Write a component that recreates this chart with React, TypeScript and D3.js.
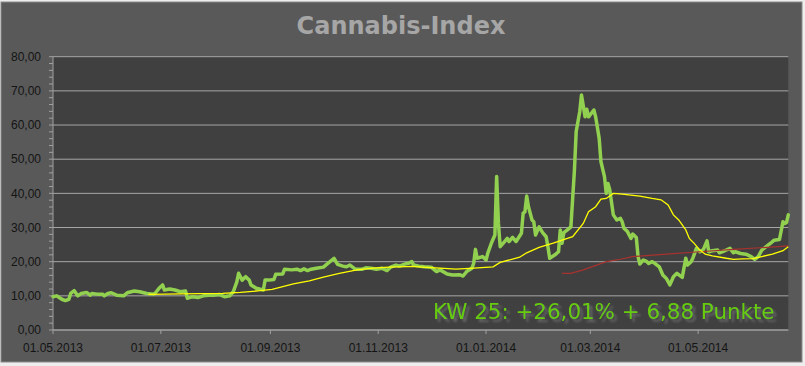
import React from 'react';
import * as d3 from 'd3';

// Cannabis-Index, Mai 2013 - Juni 2014
const INDEX_DATES = [
  '2013-05-01', '2013-05-03', '2013-05-06', '2013-05-08', '2013-05-10', '2013-05-11', '2013-05-13', '2013-05-15',
  '2013-05-17', '2013-05-20', '2013-05-22', '2013-05-23', '2013-05-26', '2013-05-29', '2013-05-30', '2013-06-01',
  '2013-06-03', '2013-06-06', '2013-06-10', '2013-06-12', '2013-06-16', '2013-06-19', '2013-06-23', '2013-06-27',
  '2013-06-28', '2013-06-30', '2013-07-02', '2013-07-03', '2013-07-06', '2013-07-09', '2013-07-12', '2013-07-15',
  '2013-07-16', '2013-07-19', '2013-07-22', '2013-07-25', '2013-07-28', '2013-07-31', '2013-08-03', '2013-08-06',
  '2013-08-09', '2013-08-11', '2013-08-13', '2013-08-14', '2013-08-16', '2013-08-18', '2013-08-20', '2013-08-21',
  '2013-08-24', '2013-08-28', '2013-08-29', '2013-08-31', '2013-09-03', '2013-09-04', '2013-09-08', '2013-09-09',
  '2013-09-13', '2013-09-16', '2013-09-18', '2013-09-20', '2013-09-22', '2013-09-24', '2013-09-27', '2013-10-01',
  '2013-10-03', '2013-10-07', '2013-10-09', '2013-10-12', '2013-10-14', '2013-10-16', '2013-10-19', '2013-10-23',
  '2013-10-25', '2013-10-28', '2013-10-31', '2013-11-03', '2013-11-06', '2013-11-08', '2013-11-11', '2013-11-13',
  '2013-11-16', '2013-11-18', '2013-11-20', '2013-11-21', '2013-11-24', '2013-11-27', '2013-12-01', '2013-12-04',
  '2013-12-06', '2013-12-10', '2013-12-13', '2013-12-17', '2013-12-19', '2013-12-21', '2013-12-24', '2013-12-25',
  '2013-12-26', '2013-12-27', '2013-12-30', '2014-01-01', '2014-01-02', '2014-01-04', '2014-01-06', '2014-01-07',
  '2014-01-08', '2014-01-09', '2014-01-11', '2014-01-13', '2014-01-14', '2014-01-16', '2014-01-18', '2014-01-21',
  '2014-01-22', '2014-01-23', '2014-01-24', '2014-01-25', '2014-01-27', '2014-01-28', '2014-01-29', '2014-01-31',
  '2014-02-02', '2014-02-04', '2014-02-05', '2014-02-06', '2014-02-09', '2014-02-11', '2014-02-12', '2014-02-13',
  '2014-02-14', '2014-02-16', '2014-02-18', '2014-02-20', '2014-02-21', '2014-02-23', '2014-02-24', '2014-02-26',
  '2014-02-27', '2014-02-28', '2014-03-03', '2014-03-04', '2014-03-06', '2014-03-07', '2014-03-09', '2014-03-10',
  '2014-03-11', '2014-03-12', '2014-03-14', '2014-03-16', '2014-03-18', '2014-03-19', '2014-03-20', '2014-03-22',
  '2014-03-24', '2014-03-25', '2014-03-27', '2014-03-28', '2014-03-29', '2014-03-31', '2014-04-02', '2014-04-03',
  '2014-04-05', '2014-04-07', '2014-04-09', '2014-04-11', '2014-04-13', '2014-04-15', '2014-04-17', '2014-04-19',
  '2014-04-22', '2014-04-24', '2014-04-25', '2014-04-27', '2014-04-28', '2014-04-30', '2014-05-02', '2014-05-04',
  '2014-05-06', '2014-05-07', '2014-05-09', '2014-05-12', '2014-05-13', '2014-05-16', '2014-05-19', '2014-05-21',
  '2014-05-22', '2014-05-25', '2014-05-28', '2014-05-31', '2014-06-02', '2014-06-04', '2014-06-06', '2014-06-09',
  '2014-06-11', '2014-06-13', '2014-06-16', '2014-06-18', '2014-06-19', '2014-06-20', '2014-06-21',
];
const INDEX_VALUES = [
  9.75, 10.0, 9.0, 8.6, 9.0, 10.7, 11.5, 10.0,
  10.7, 11.0, 10.2, 10.7, 10.5, 10.5, 10.0, 10.7,
  10.9, 10.2, 10.0, 10.9, 11.4, 11.2, 10.7, 10.5,
  10.9, 12.2, 13.2, 11.7, 12.0, 11.7, 11.2, 11.4,
  9.3, 9.75, 9.5, 10.0, 10.2, 10.2, 10.4, 9.75,
  10.0, 11.2, 14.1, 16.6, 14.6, 15.6, 14.6, 13.2,
  12.2, 11.7, 14.6, 14.6, 14.8, 16.3, 16.4, 17.8,
  17.6, 17.8, 17.4, 17.9, 17.4, 17.8, 18.1, 18.4,
  19.3, 21.0, 19.2, 18.7, 18.5, 19.0, 17.8, 17.8,
  18.2, 18.1, 17.8, 18.1, 17.4, 18.4, 19.0, 18.7,
  19.3, 19.5, 20.0, 19.0, 18.7, 18.5, 18.4, 17.1,
  17.6, 16.4, 16.1, 16.2, 15.8, 17.1, 18.1, 19.5,
  23.6, 21.0, 21.5, 20.5, 22.5, 25.4, 27.8, 44.9,
  31.2, 24.4, 25.6, 26.8, 25.9, 27.1, 25.9, 28.3,
  34.2, 34.6, 39.2, 36.1, 32.2, 31.7, 27.8, 30.2,
  28.5, 27.3, 24.4, 21.0, 22.0, 22.9, 29.3, 25.4,
  28.5, 29.3, 30.2, 46.8, 58.1, 63.9, 68.8, 62.4,
  64.6, 62.4, 64.4, 62.4, 56.1, 49.3, 44.9, 40.0,
  42.9, 41.0, 33.7, 32.2, 32.7, 31.7, 29.8, 28.8,
  26.8, 28.1, 27.1, 21.5, 19.3, 20.5, 20.0, 19.5,
  20.0, 19.3, 18.5, 16.1, 15.1, 13.2, 15.6, 16.6,
  15.4, 21.0, 19.0, 20.0, 21.0, 23.9, 22.9, 23.6,
  26.1, 22.9, 23.2, 23.4, 22.6, 23.2, 23.9, 22.6,
  22.9, 22.4, 22.2, 21.5, 20.7, 21.5, 23.4, 24.6,
  25.4, 26.3, 26.5, 31.7, 31.2, 31.5, 33.7,
];

// gleitender Durchschnitt (gelb)
const AVG_DATES = [
  '2013-06-24', '2013-07-12', '2013-08-05', '2013-08-15', '2013-08-26', '2013-09-02', '2013-09-08', '2013-09-14',
  '2013-09-23', '2013-10-01', '2013-10-10', '2013-10-20', '2013-10-29', '2013-11-07', '2013-11-13', '2013-11-20',
  '2013-11-26', '2013-12-06', '2013-12-15', '2013-12-25', '2014-01-05', '2014-01-09', '2014-01-20', '2014-01-24',
  '2014-01-31', '2014-02-08', '2014-02-16', '2014-02-19', '2014-02-25', '2014-02-28', '2014-03-04', '2014-03-07',
  '2014-03-10', '2014-03-14', '2014-03-19', '2014-03-29', '2014-04-05', '2014-04-10', '2014-04-14', '2014-04-17',
  '2014-04-20', '2014-04-24', '2014-04-26', '2014-04-29', '2014-05-02', '2014-05-05', '2014-05-09', '2014-05-17',
  '2014-05-21', '2014-05-26', '2014-06-01', '2014-06-06', '2014-06-12', '2014-06-18', '2014-06-21',
];
const AVG_VALUES = [
  10.4, 10.6, 10.7, 11.0, 11.5, 11.9, 12.7, 13.5,
  14.4, 15.5, 16.6, 17.6, 18.1, 18.4, 18.5, 18.6,
  18.4, 18.1, 17.8, 18.1, 18.5, 19.8, 21.3, 22.6,
  24.2, 25.4, 26.8, 27.3, 31.2, 34.6, 36.1, 38.3,
  38.5, 40.0, 39.8, 39.2, 38.5, 38.1, 36.6, 33.7,
  32.2, 29.3, 26.8, 25.2, 23.4, 22.2, 21.7, 21.0,
  20.7, 20.8, 20.9, 21.5, 22.2, 23.2, 24.4,
];

// langer Durchschnitt (rot)
const LONG_DATES = [
  '2014-02-13', '2014-02-18', '2014-02-25', '2014-03-03', '2014-03-10', '2014-03-18',
  '2014-03-25', '2014-04-13', '2014-05-02', '2014-05-21', '2014-06-09', '2014-06-21',
];
const LONG_VALUES = [16.6, 16.6, 17.6, 18.7, 20.0, 20.7, 21.5, 22.2, 22.9, 23.6, 24.2, 24.6];

const Y_TICKS = [0, 10, 20, 30, 40, 50, 60, 70, 80];
const TITLE = 'Cannabis-Index';
const NOTE = 'KW 25: +26,01% + 6,88 Punkte';

const W = 805;
const H = 366;
const PLOT = { left: 53, right: 788.3, top: 56.7, bottom: 330 };

const parse = d3.timeParse('%Y-%m-%d');
const toPoints = (dates: string[], values: number[]) =>
  dates.map((d, i) => ({ date: parse(d) as Date, value: values[i] }));

const de = d3.formatLocale({ decimal: ',', thousands: '.', grouping: [3], currency: ['', ' €'] });
const fmtY = de.format('.2f');
const fmtX = d3.timeFormat('%d.%m.%Y');

const App = () => {
  const index = toPoints(INDEX_DATES, INDEX_VALUES);
  const avg = toPoints(AVG_DATES, AVG_VALUES);
  const long = toPoints(LONG_DATES, LONG_VALUES);

  const x = d3.scaleTime()
    .domain([parse('2013-05-01') as Date, parse('2014-06-21') as Date])
    .range([PLOT.left, PLOT.right]);
  const y = d3.scaleLinear().domain([0, 80]).range([PLOT.bottom, PLOT.top]);

  const line = d3.line<{ date: Date; value: number }>()
    .x(d => x(d.date))
    .y(d => y(d.value));

  const xTicks = d3.timeMonth.every(2)!.range(parse('2013-05-01') as Date, parse('2014-06-02') as Date);
  const minorTicks = d3.range(0, 81, 2);

  const font = '"Liberation Sans", Arial, sans-serif';

  return (
    <div>
      <style>{'body{margin:0}'}</style>
      <svg width={W} height={H} style={{ display: 'block' }}>
        <defs>
          <filter id="noteShadow" x="-5%" y="-30%" width="115%" height="170%">
            <feDropShadow dx="3" dy="3" stdDeviation="1.3" floodColor="#6e6e6e" floodOpacity="0.8" />
          </filter>
        </defs>
        {/* Tabellenblatt dahinter */}
        <rect x={0} y={0} width={W} height={H} fill="#eeeeee" />
        <rect x={1} y={2} width={801} height={360} fill="#595959" stroke="#8a8a8a" strokeWidth={1} />

        <text x={401} y={34} textAnchor="middle" fill="#a6a6a6"
          style={{ font: `bold 24px "DejaVu Sans", Verdana, sans-serif` }}>{TITLE}</text>

        {/* Zeichenfläche */}
        <rect x={PLOT.left} y={PLOT.top} width={PLOT.right - PLOT.left} height={PLOT.bottom - PLOT.top} fill="#404040" />

        {Y_TICKS.map(t => (
          <line key={'g' + t} x1={PLOT.left} x2={PLOT.right} y1={y(t)} y2={y(t)} stroke="#a6a6a6" strokeWidth={1} />
        ))}
        {minorTicks.map(t => (
          <line key={'m' + t} x1={PLOT.left - 4} x2={PLOT.left} y1={y(t)} y2={y(t)} stroke="#a0a0a0" strokeWidth={1} />
        ))}
        <line x1={PLOT.left} x2={PLOT.left} y1={PLOT.top} y2={PLOT.bottom} stroke="#a0a0a0" strokeWidth={1} />
        <line x1={PLOT.left} x2={PLOT.right} y1={PLOT.bottom} y2={PLOT.bottom} stroke="#a0a0a0" strokeWidth={1} />

        {Y_TICKS.map(t => (
          <text key={'yl' + t} x={41} y={y(t)} dy="0.35em" textAnchor="end" fill="#141414"
            style={{ font: `12px ${font}` }}>{fmtY(t)}</text>
        ))}
        {xTicks.map(t => (
          <g key={'x' + t.getTime()}>
            <line x1={x(t)} x2={x(t)} y1={PLOT.bottom} y2={PLOT.bottom + 4} stroke="#a0a0a0" />
            <text x={x(t)} y={352} textAnchor="middle" fill="#141414" style={{ font: `12px ${font}` }}>{fmtX(t)}</text>
          </g>
        ))}

        <path d={line(index) || ''} fill="none" stroke="#92d050" strokeWidth={3.5} strokeLinejoin="round" strokeLinecap="round" />
        <path d={line(long) || ''} fill="none" stroke="#a8322f" strokeWidth={1.2} />
        <path d={line(avg) || ''} fill="none" stroke="#ffff00" strokeWidth={1.3} />

        <text x={433} y={319.3} fill="#66cc11" filter="url(#noteShadow)"
          style={{ font: `21.4px "DejaVu Sans", Verdana, sans-serif` }}>{NOTE}</text>
      </svg>
    </div>
  );
};

export default App;
